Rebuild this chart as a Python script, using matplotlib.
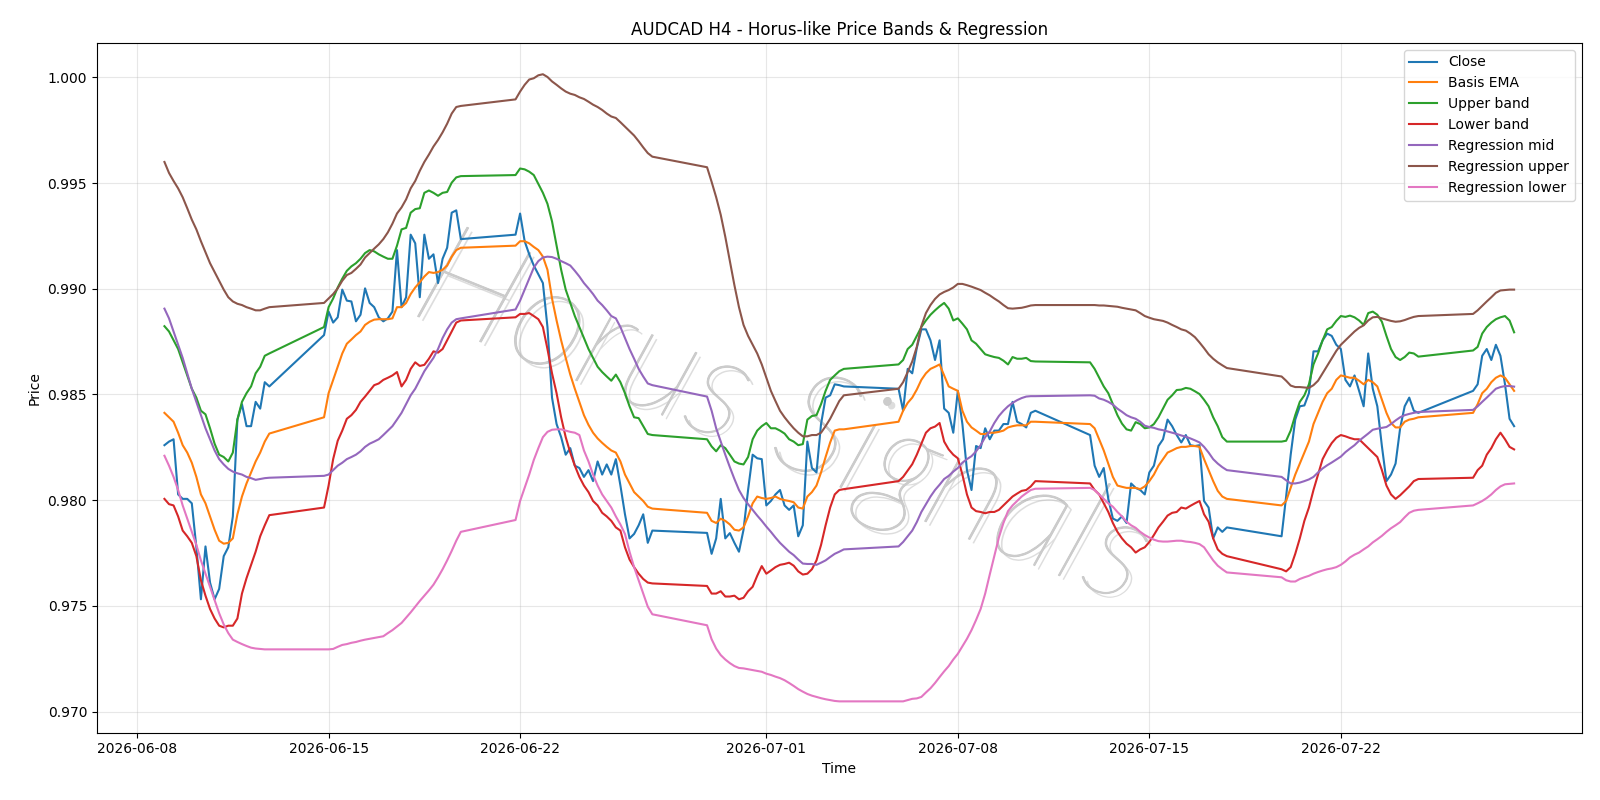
import numpy as np
import pandas as pd
import matplotlib
matplotlib.use("Agg")
from matplotlib import pyplot as plt
from matplotlib import patheffects as pe

# H4 bars: weekdays plus the Sunday 20:00 open bar
idx = pd.date_range("2026-06-09 00:00", "2026-07-28 08:00", freq="4h")
times = idx[(idx.dayofweek < 5) | ((idx.dayofweek == 6) & (idx.hour == 20))]

close = [
    0.98260, 0.98277, 0.98288, 0.98027, 0.98006, 0.98006,
    0.97985, 0.97777, 0.97531, 0.97781, 0.97610, 0.97531,
    0.97580, 0.97735, 0.97777, 0.97923, 0.98381, 0.98454,
    0.98350, 0.98350, 0.98465, 0.98433, 0.98558, 0.98538,
    0.98781,
    0.98892, 0.98840, 0.98865, 0.98996, 0.98944, 0.98940,
    0.98846, 0.98877, 0.99002, 0.98933, 0.98913, 0.98865,
    0.98846, 0.98860, 0.98892, 0.99183, 0.98913, 0.98960,
    0.99256, 0.99215, 0.98960, 0.99256, 0.99142, 0.99163,
    0.99027, 0.99142, 0.99194, 0.99360, 0.99371, 0.99235,
    0.99256,
    0.99356, 0.99225, 0.99163, 0.99110, 0.99069, 0.99027,
    0.98819, 0.98485, 0.98360, 0.98298, 0.98215, 0.98246,
    0.98163, 0.98152, 0.98110, 0.98142, 0.98090, 0.98183,
    0.98121, 0.98169, 0.98121, 0.98194, 0.98069, 0.97933,
    0.97819, 0.97840, 0.97881, 0.97933, 0.97798, 0.97856,
    0.97845,
    0.97746, 0.97819, 0.98006, 0.97819, 0.97844, 0.97798,
    0.97756, 0.97860, 0.98048, 0.98215, 0.98198, 0.98194,
    0.97975, 0.97996, 0.98027, 0.98048, 0.97975, 0.97954,
    0.97975, 0.97829, 0.97881, 0.98277, 0.98152, 0.98131,
    0.98360, 0.98485, 0.98496, 0.98548, 0.98544, 0.98538,
    0.98527,
    0.98423, 0.98621, 0.98600, 0.98720, 0.98808, 0.98808,
    0.98756, 0.98663, 0.98756, 0.98433, 0.98413, 0.98319,
    0.98517, 0.98360, 0.98142, 0.98048, 0.98256, 0.98246,
    0.98340, 0.98288, 0.98329, 0.98329, 0.98360, 0.98360,
    0.98465, 0.98371, 0.98360, 0.98344, 0.98413, 0.98423,
    0.98308,
    0.98163, 0.98110, 0.98152, 0.98006, 0.97913, 0.97902,
    0.97923, 0.97892, 0.98079, 0.98058, 0.98048, 0.98027,
    0.98131, 0.98163, 0.98256, 0.98288, 0.98381, 0.98350,
    0.98308, 0.98273, 0.98308, 0.98260, 0.98256, 0.98260,
    0.97996, 0.97965, 0.97819, 0.97871, 0.97850, 0.97871,
    0.97829,
    0.98017, 0.98215, 0.98381, 0.98444, 0.98448, 0.98506,
    0.98704, 0.98704, 0.98756, 0.98788, 0.98777, 0.98735,
    0.98715, 0.98569, 0.98538, 0.98590, 0.98517, 0.98444,
    0.98694, 0.98527, 0.98444, 0.98256, 0.98090, 0.98121,
    0.98173, 0.98340, 0.98444, 0.98485, 0.98423, 0.98413,
    0.98517,
    0.98548, 0.98683, 0.98715, 0.98663, 0.98735, 0.98683,
    0.98548, 0.98385, 0.98350,
]

basis_ema = [
    0.98413, 0.98392, 0.98371, 0.98319, 0.98260, 0.98225,
    0.98177, 0.98110, 0.98027, 0.97985, 0.97923, 0.97860,
    0.97808, 0.97794, 0.97798, 0.97819, 0.97933, 0.98017,
    0.98079, 0.98131, 0.98183, 0.98225, 0.98277, 0.98315,
    0.98392,
    0.98506, 0.98569, 0.98631, 0.98694, 0.98740, 0.98760,
    0.98781, 0.98798, 0.98829, 0.98844, 0.98854, 0.98856,
    0.98856, 0.98856, 0.98860, 0.98913, 0.98913, 0.98933,
    0.98975, 0.99006, 0.99031, 0.99058, 0.99079, 0.99075,
    0.99079, 0.99090, 0.99110, 0.99152, 0.99183, 0.99194,
    0.99204,
    0.99225, 0.99225, 0.99215, 0.99198, 0.99183, 0.99152,
    0.99090, 0.98954, 0.98850, 0.98756, 0.98673, 0.98594,
    0.98527, 0.98465, 0.98402, 0.98356, 0.98319, 0.98292,
    0.98271, 0.98252, 0.98235, 0.98225, 0.98183, 0.98121,
    0.98079, 0.98038, 0.98017, 0.97996, 0.97969, 0.97960,
    0.97940,
    0.97902, 0.97892, 0.97912, 0.97902, 0.97885, 0.97860,
    0.97856, 0.97871, 0.97923, 0.97985, 0.98017, 0.98010,
    0.98006, 0.98010, 0.98017, 0.98006, 0.98000, 0.97996,
    0.97990, 0.97965, 0.97960, 0.98017, 0.98038, 0.98069,
    0.98131, 0.98204, 0.98273, 0.98329, 0.98335, 0.98335,
    0.98371,
    0.98423, 0.98460, 0.98485, 0.98523, 0.98569, 0.98600,
    0.98621, 0.98631, 0.98642, 0.98590, 0.98538, 0.98527,
    0.98517, 0.98423, 0.98371, 0.98344, 0.98329, 0.98313,
    0.98313, 0.98319, 0.98319, 0.98323, 0.98329, 0.98344,
    0.98350, 0.98354, 0.98354, 0.98354, 0.98371, 0.98371,
    0.98360,
    0.98340, 0.98288, 0.98235, 0.98173, 0.98110, 0.98069,
    0.98063, 0.98058, 0.98058, 0.98058, 0.98052, 0.98065,
    0.98090, 0.98121, 0.98163, 0.98194, 0.98225, 0.98235,
    0.98246, 0.98252, 0.98252, 0.98256, 0.98256, 0.98252,
    0.98194, 0.98142, 0.98090, 0.98044, 0.98017, 0.98006,
    0.97975,
    0.97996, 0.98058, 0.98121, 0.98173, 0.98225, 0.98277,
    0.98360, 0.98413, 0.98465, 0.98506, 0.98527, 0.98569,
    0.98590, 0.98585, 0.98579, 0.98579, 0.98565, 0.98548,
    0.98569, 0.98558, 0.98538, 0.98475, 0.98413, 0.98365,
    0.98344, 0.98344, 0.98371, 0.98381, 0.98385, 0.98392,
    0.98413,
    0.98454, 0.98506, 0.98527, 0.98558, 0.98579, 0.98590,
    0.98579, 0.98548, 0.98517,
]

upper_band = [
    0.98823, 0.98798, 0.98756, 0.98715, 0.98652, 0.98590,
    0.98527, 0.98485, 0.98423, 0.98406, 0.98340, 0.98267,
    0.98215, 0.98204, 0.98183, 0.98225, 0.98381, 0.98465,
    0.98506, 0.98538, 0.98600, 0.98631, 0.98683, 0.98694,
    0.98819,
    0.98913, 0.98954, 0.99006, 0.99048, 0.99085, 0.99106,
    0.99121, 0.99142, 0.99169, 0.99183, 0.99177, 0.99163,
    0.99152, 0.99142, 0.99142, 0.99204, 0.99281, 0.99288,
    0.99360, 0.99377, 0.99381, 0.99454, 0.99465, 0.99454,
    0.99440, 0.99454, 0.99458, 0.99502, 0.99527, 0.99533,
    0.99538,
    0.99569, 0.99565, 0.99554, 0.99538, 0.99496, 0.99454,
    0.99402, 0.99319, 0.99204, 0.99090, 0.98996, 0.98933,
    0.98871, 0.98819, 0.98767, 0.98715, 0.98673, 0.98631,
    0.98606, 0.98585, 0.98565, 0.98594, 0.98558, 0.98506,
    0.98444, 0.98392, 0.98388, 0.98350, 0.98313, 0.98308,
    0.98288,
    0.98254, 0.98231, 0.98260, 0.98246, 0.98215, 0.98183,
    0.98173, 0.98169, 0.98204, 0.98288, 0.98329, 0.98350,
    0.98365, 0.98340, 0.98340, 0.98329, 0.98315, 0.98288,
    0.98277, 0.98260, 0.98265, 0.98381, 0.98398, 0.98402,
    0.98454, 0.98517, 0.98569, 0.98590, 0.98610, 0.98621,
    0.98642,
    0.98663, 0.98715, 0.98735, 0.98777, 0.98819, 0.98850,
    0.98877, 0.98898, 0.98917, 0.98933, 0.98906, 0.98850,
    0.98860, 0.98835, 0.98808, 0.98756, 0.98740, 0.98715,
    0.98690, 0.98683, 0.98677, 0.98673, 0.98660, 0.98642,
    0.98677, 0.98669, 0.98669, 0.98673, 0.98658, 0.98656,
    0.98652,
    0.98621, 0.98579, 0.98538, 0.98506, 0.98454, 0.98402,
    0.98362, 0.98335, 0.98329, 0.98369, 0.98360, 0.98340,
    0.98344, 0.98360, 0.98392, 0.98433, 0.98475, 0.98496,
    0.98521, 0.98523, 0.98531, 0.98527, 0.98515, 0.98502,
    0.98475, 0.98444, 0.98392, 0.98350, 0.98298, 0.98277,
    0.98277,
    0.98281, 0.98329, 0.98402, 0.98465, 0.98496, 0.98548,
    0.98642, 0.98694, 0.98756, 0.98808, 0.98819, 0.98848,
    0.98871, 0.98867, 0.98873, 0.98865, 0.98850, 0.98829,
    0.98885, 0.98892, 0.98877, 0.98844, 0.98777, 0.98715,
    0.98677, 0.98663, 0.98677, 0.98698, 0.98694, 0.98679,
    0.98708,
    0.98725, 0.98788, 0.98819, 0.98840, 0.98856, 0.98865,
    0.98871, 0.98850, 0.98794,
]

lower_band = [
    0.98006, 0.97981, 0.97975, 0.97923, 0.97856, 0.97829,
    0.97798, 0.97735, 0.97621, 0.97548, 0.97485, 0.97440,
    0.97406, 0.97398, 0.97406, 0.97406, 0.97440, 0.97558,
    0.97631, 0.97694, 0.97756, 0.97829, 0.97881, 0.97929,
    0.97965,
    0.98069, 0.98194, 0.98281, 0.98329, 0.98385, 0.98402,
    0.98427, 0.98465, 0.98490, 0.98517, 0.98544, 0.98552,
    0.98569, 0.98579, 0.98590, 0.98606, 0.98538, 0.98569,
    0.98621, 0.98652, 0.98635, 0.98640, 0.98669, 0.98704,
    0.98698, 0.98715, 0.98756, 0.98798, 0.98840, 0.98850,
    0.98865,
    0.98881, 0.98881, 0.98885, 0.98871, 0.98856, 0.98819,
    0.98715, 0.98600, 0.98506, 0.98392, 0.98298, 0.98225,
    0.98163, 0.98110, 0.98069, 0.98038, 0.97996, 0.97975,
    0.97940, 0.97923, 0.97902, 0.97871, 0.97856, 0.97777,
    0.97719, 0.97683, 0.97652, 0.97627, 0.97610, 0.97606,
    0.97594,
    0.97558, 0.97558, 0.97569, 0.97544, 0.97544, 0.97548,
    0.97531, 0.97538, 0.97569, 0.97590, 0.97642, 0.97688,
    0.97652, 0.97667, 0.97683, 0.97694, 0.97698, 0.97704,
    0.97690, 0.97663, 0.97648, 0.97652, 0.97673, 0.97715,
    0.97788, 0.97881, 0.97965, 0.98027, 0.98048, 0.98052,
    0.98090,
    0.98110, 0.98140, 0.98170, 0.98215, 0.98267, 0.98319,
    0.98340, 0.98348, 0.98365, 0.98277, 0.98240, 0.98215,
    0.98198, 0.98121, 0.98027, 0.97965, 0.97948, 0.97944,
    0.97938, 0.97944, 0.97944, 0.97954, 0.97975, 0.97996,
    0.98017, 0.98031, 0.98044, 0.98048, 0.98065, 0.98090,
    0.98079,
    0.98048, 0.98027, 0.97985, 0.97944, 0.97892, 0.97850,
    0.97819, 0.97794, 0.97777, 0.97752, 0.97767, 0.97777,
    0.97802, 0.97835, 0.97871, 0.97898, 0.97927, 0.97940,
    0.97944, 0.97965, 0.97960, 0.97973, 0.97985, 0.97996,
    0.97933, 0.97898, 0.97819, 0.97767, 0.97746, 0.97735,
    0.97673,
    0.97663, 0.97683, 0.97746, 0.97819, 0.97902, 0.97965,
    0.98048, 0.98121, 0.98194, 0.98235, 0.98270, 0.98295,
    0.98308, 0.98302, 0.98294, 0.98288, 0.98288, 0.98267,
    0.98246, 0.98225, 0.98204, 0.98142, 0.98069, 0.98027,
    0.98006, 0.98023, 0.98044, 0.98065, 0.98090, 0.98100,
    0.98106,
    0.98142, 0.98163, 0.98215, 0.98246, 0.98288, 0.98319,
    0.98288, 0.98252, 0.98240,
]

reg_mid = [
    0.98906, 0.98860, 0.98798, 0.98735, 0.98673, 0.98600,
    0.98527, 0.98465, 0.98402, 0.98340, 0.98288, 0.98235,
    0.98194, 0.98169, 0.98148, 0.98135, 0.98127, 0.98121,
    0.98110, 0.98104, 0.98096, 0.98100, 0.98104, 0.98106,
    0.98115,
    0.98121, 0.98142, 0.98163, 0.98177, 0.98194, 0.98204,
    0.98215, 0.98231, 0.98252, 0.98267, 0.98277, 0.98288,
    0.98308, 0.98329, 0.98350, 0.98381, 0.98413, 0.98454,
    0.98496, 0.98527, 0.98569, 0.98610, 0.98642, 0.98673,
    0.98715, 0.98767, 0.98808, 0.98840, 0.98856, 0.98860,
    0.98902,
    0.98944, 0.98996, 0.99048, 0.99100, 0.99131, 0.99148,
    0.99152, 0.99150, 0.99142, 0.99131, 0.99121, 0.99110,
    0.99085, 0.99058, 0.99027, 0.99002, 0.98975, 0.98944,
    0.98923, 0.98898, 0.98871, 0.98860, 0.98819, 0.98767,
    0.98715, 0.98669, 0.98621, 0.98585, 0.98552, 0.98544,
    0.98490,
    0.98423, 0.98340, 0.98277, 0.98215, 0.98156, 0.98100,
    0.98048, 0.98010, 0.97981, 0.97954, 0.97927, 0.97902,
    0.97875, 0.97850, 0.97823, 0.97798, 0.97777, 0.97756,
    0.97740, 0.97719, 0.97700, 0.97698, 0.97698, 0.97694,
    0.97704, 0.97715, 0.97731, 0.97746, 0.97756, 0.97767,
    0.97781,
    0.97802, 0.97829, 0.97856, 0.97896, 0.97944, 0.97981,
    0.98017, 0.98048, 0.98073, 0.98100, 0.98115, 0.98135,
    0.98152, 0.98177, 0.98194, 0.98208, 0.98231, 0.98260,
    0.98298, 0.98325, 0.98365, 0.98398, 0.98423, 0.98444,
    0.98460, 0.98473, 0.98483, 0.98490, 0.98492, 0.98492,
    0.98496,
    0.98494, 0.98481, 0.98475, 0.98465, 0.98452, 0.98433,
    0.98418, 0.98402, 0.98392, 0.98385, 0.98371, 0.98352,
    0.98346, 0.98342, 0.98335, 0.98331, 0.98325, 0.98319,
    0.98313, 0.98306, 0.98300, 0.98292, 0.98283, 0.98273,
    0.98252, 0.98225, 0.98194, 0.98173, 0.98156, 0.98142,
    0.98110,
    0.98094, 0.98079, 0.98079, 0.98083, 0.98090, 0.98098,
    0.98110, 0.98131, 0.98150, 0.98165, 0.98178, 0.98192,
    0.98206, 0.98227, 0.98244, 0.98260, 0.98281, 0.98298,
    0.98315, 0.98333, 0.98338, 0.98342, 0.98346, 0.98360,
    0.98377, 0.98392, 0.98402, 0.98408, 0.98413, 0.98417,
    0.98427,
    0.98444, 0.98465, 0.98485, 0.98506, 0.98527, 0.98535,
    0.98540, 0.98540, 0.98537,
]

reg_upper = [
    0.99600, 0.99548, 0.99510, 0.99475, 0.99433, 0.99381,
    0.99327, 0.99281, 0.99225, 0.99173, 0.99121, 0.99079,
    0.99038, 0.98996, 0.98960, 0.98940, 0.98929, 0.98923,
    0.98913, 0.98906, 0.98898, 0.98898, 0.98906, 0.98913,
    0.98933,
    0.98954, 0.98975, 0.99002, 0.99038, 0.99065, 0.99075,
    0.99094, 0.99115, 0.99148, 0.99169, 0.99190, 0.99210,
    0.99235, 0.99267, 0.99308, 0.99356, 0.99385, 0.99423,
    0.99475, 0.99510, 0.99558, 0.99600, 0.99635, 0.99673,
    0.99704, 0.99740, 0.99781, 0.99829, 0.99860, 0.99865,
    0.99896,
    0.99933, 0.99965, 0.99990, 0.99996, 1.00010, 1.00015,
    1.00002, 0.99981, 0.99965, 0.99948, 0.99933, 0.99923,
    0.99917, 0.99906, 0.99898, 0.99885, 0.99871, 0.99860,
    0.99846, 0.99829, 0.99815, 0.99808, 0.99788, 0.99767,
    0.99746, 0.99725, 0.99698, 0.99669, 0.99642, 0.99625,
    0.99575,
    0.99506, 0.99433, 0.99350, 0.99246, 0.99131, 0.99017,
    0.98913, 0.98829, 0.98777, 0.98735, 0.98694, 0.98642,
    0.98579, 0.98517, 0.98469, 0.98423, 0.98392, 0.98365,
    0.98340, 0.98319, 0.98302, 0.98302, 0.98308, 0.98308,
    0.98319, 0.98350, 0.98385, 0.98427, 0.98469, 0.98496,
    0.98527,
    0.98558, 0.98606, 0.98656, 0.98725, 0.98823, 0.98885,
    0.98923, 0.98952, 0.98973, 0.98985, 0.98994, 0.99006,
    0.99023, 0.99023, 0.99017, 0.99010, 0.99002, 0.98994,
    0.98981, 0.98969, 0.98954, 0.98940, 0.98923, 0.98908,
    0.98906, 0.98908, 0.98910, 0.98915, 0.98921, 0.98923,
    0.98923,
    0.98923, 0.98921, 0.98921, 0.98919, 0.98917, 0.98915,
    0.98910, 0.98906, 0.98902, 0.98898, 0.98885, 0.98871,
    0.98863, 0.98856, 0.98852, 0.98848, 0.98840, 0.98829,
    0.98819, 0.98808, 0.98802, 0.98788, 0.98771, 0.98746,
    0.98719, 0.98690, 0.98669, 0.98652, 0.98638, 0.98625,
    0.98585,
    0.98565, 0.98542, 0.98535, 0.98535, 0.98533, 0.98531,
    0.98544, 0.98565, 0.98600, 0.98635, 0.98671, 0.98706,
    0.98735, 0.98756, 0.98777, 0.98798, 0.98815, 0.98827,
    0.98850, 0.98865, 0.98867, 0.98860, 0.98854, 0.98848,
    0.98844, 0.98846, 0.98852, 0.98860, 0.98867, 0.98871,
    0.98881,
    0.98898, 0.98919, 0.98940, 0.98960, 0.98981, 0.98992,
    0.98994, 0.98996, 0.98996,
]

reg_lower = [
    0.98210, 0.98163, 0.98110, 0.98048, 0.97975, 0.97913,
    0.97850, 0.97788, 0.97715, 0.97652, 0.97590, 0.97527,
    0.97465, 0.97412, 0.97371, 0.97340, 0.97329, 0.97319,
    0.97310, 0.97302, 0.97298, 0.97296, 0.97294, 0.97294,
    0.97294,
    0.97294, 0.97296, 0.97306, 0.97315, 0.97319, 0.97325,
    0.97329, 0.97335, 0.97340, 0.97344, 0.97348, 0.97352,
    0.97356, 0.97371, 0.97385, 0.97402, 0.97419, 0.97444,
    0.97469, 0.97496, 0.97523, 0.97548, 0.97573, 0.97600,
    0.97635, 0.97673, 0.97715, 0.97760, 0.97808, 0.97850,
    0.97906,
    0.97996, 0.98058, 0.98121, 0.98190, 0.98246, 0.98298,
    0.98323, 0.98333, 0.98335, 0.98335, 0.98329, 0.98323,
    0.98319, 0.98308, 0.98235, 0.98183, 0.98121, 0.98069,
    0.98027, 0.97996, 0.97965, 0.97923, 0.97885, 0.97840,
    0.97756, 0.97683, 0.97621, 0.97558, 0.97496, 0.97460,
    0.97408,
    0.97342, 0.97298, 0.97267, 0.97246, 0.97229, 0.97215,
    0.97206, 0.97204, 0.97200, 0.97196, 0.97192, 0.97188,
    0.97179, 0.97173, 0.97165, 0.97158, 0.97148, 0.97135,
    0.97121, 0.97106, 0.97094, 0.97083, 0.97075, 0.97069,
    0.97063, 0.97058, 0.97054, 0.97050, 0.97048, 0.97048,
    0.97048,
    0.97048, 0.97054, 0.97060, 0.97062, 0.97069, 0.97090,
    0.97110, 0.97135, 0.97163, 0.97190, 0.97215, 0.97246,
    0.97273, 0.97308, 0.97344, 0.97385, 0.97433, 0.97485,
    0.97558, 0.97648, 0.97735, 0.97823, 0.97892, 0.97948,
    0.97975, 0.97996, 0.98017, 0.98033, 0.98048, 0.98054,
    0.98058,
    0.98048, 0.98027, 0.98006, 0.97985, 0.97969, 0.97944,
    0.97923, 0.97898, 0.97881, 0.97869, 0.97850, 0.97835,
    0.97823, 0.97813, 0.97806, 0.97804, 0.97804, 0.97806,
    0.97808, 0.97808, 0.97804, 0.97802, 0.97798, 0.97792,
    0.97777, 0.97746, 0.97715, 0.97690, 0.97673, 0.97658,
    0.97635,
    0.97621, 0.97615, 0.97615, 0.97627, 0.97635, 0.97642,
    0.97652, 0.97660, 0.97667, 0.97673, 0.97677, 0.97683,
    0.97694, 0.97710, 0.97729, 0.97742, 0.97752, 0.97767,
    0.97781, 0.97800, 0.97815, 0.97831, 0.97850, 0.97867,
    0.97881, 0.97896, 0.97919, 0.97940, 0.97950, 0.97954,
    0.97975,
    0.97985, 0.97996, 0.98010, 0.98027, 0.98048, 0.98065,
    0.98075, 0.98077, 0.98079,
]

series = [
    ("Close", close),
    ("Basis EMA", basis_ema),
    ("Upper band", upper_band),
    ("Lower band", lower_band),
    ("Regression mid", reg_mid),
    ("Regression upper", reg_upper),
    ("Regression lower", reg_lower),
]

fig, ax = plt.subplots(figsize=(16, 8), dpi=100)
fig.subplots_adjust(left=0.0606, right=0.9885, top=0.9464, bottom=0.0841)

for label, vals in series:
    ax.plot(times, vals, label=label, linewidth=1.5)

# watermark, thin grey letters with a soft shadow
ax.text(0.462, 0.45, "Horus Signals", transform=ax.transAxes,
        fontsize=104, family=["Lato", "DejaVu Sans"], weight="light",
        style="italic", color="#cccccc", rotation=-22,
        ha="center", va="center", zorder=0.5,
        path_effects=[pe.SimplePatchShadow(offset=(3, -3), shadow_rgbFace="#909090", alpha=0.3),
                      pe.withStroke(linewidth=0.7, foreground="#c8c8c8")])

ax.set_title("AUDCAD H4 - Horus-like Price Bands & Regression")
ax.set_xlabel("Time")
ax.set_ylabel("Price")
ax.grid(True, alpha=0.3)
ax.legend(loc="upper right")

plt.savefig("out.png")
